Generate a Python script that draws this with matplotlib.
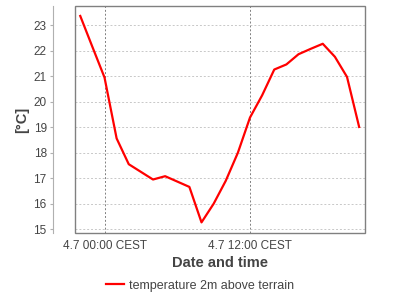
import pandas as pd
import matplotlib
matplotlib.use('Agg')
import matplotlib.pyplot as plt
import matplotlib.dates as mdates
from matplotlib.patches import Rectangle

plt.rcParams['font.family'] = ['Liberation Sans', 'DejaVu Sans']

# hourly temperatures, starting 3.7 22:00
start = '2015-07-03 22:00'
temps = [23.36, 22.15, 20.95, 18.56, 17.55, 17.25, 16.95, 17.08, 16.87, 16.66,
         15.27, 16.0, 16.9, 18.0, 19.38, 20.25, 21.26, 21.46, 21.86, 22.07,
         22.27, 21.76, 20.97, 19.01]
times = pd.date_range(start, periods=len(temps), freq='h')
series_label = 'temperature 2m above terrain'
x_title = 'Date and time'
y_title = '[°C]'

fig = plt.figure(figsize=(4, 3), dpi=100)
ax = fig.add_axes([0.188, 0.223, 0.725, 0.757])

ax.plot(times, temps, color='#ff0000', lw=1.6, label=series_label)

ax.set_xlim(pd.Timestamp('2015-07-03 21:35'), pd.Timestamp('2015-07-04 21:30'))
ax.set_ylim(14.85, 23.75)
ax.set_yticks(range(15, 24))

ax.xaxis.set_major_locator(mdates.HourLocator(byhour=[0, 12]))
ax.xaxis.set_major_formatter(mdates.DateFormatter('%-d.%-m %H:%M CEST'))

ax.grid(axis='y', color='#c8c8c8', ls=(0, (2, 2)), lw=0.7)
ax.grid(axis='x', color='#808080', ls=(0, (2, 2)), lw=0.7)

for s in ['top', 'right', 'bottom']:
    ax.spines[s].set_visible(False)
ax.spines['left'].set_position(('outward', 16))
ax.spines['left'].set_color('#b0b0b0')
ax.add_patch(Rectangle((0, 0), 1, 1, transform=ax.transAxes, fill=False,
                       edgecolor='#808080', lw=1.0, clip_on=False, zorder=5))

ax.tick_params(axis='y', length=2.5, color='#b0b0b0', labelsize=8.5,
               labelcolor='#444444', pad=2)
ax.tick_params(axis='x', length=0, labelsize=8.5, labelcolor='#444444', pad=5)

ax.set_xlabel(x_title, fontsize=10.5, fontweight='bold', color='#444444', labelpad=3)
ax.set_ylabel(y_title, fontsize=10.5, fontweight='bold', color='#444444', labelpad=3)

fig.legend(loc='lower center', bbox_to_anchor=(0.5, -0.01), frameon=False,
           fontsize=9, handlelength=1.5, handletextpad=0.4,
           labelcolor='#444444')

fig.savefig('out.png', dpi=100)
